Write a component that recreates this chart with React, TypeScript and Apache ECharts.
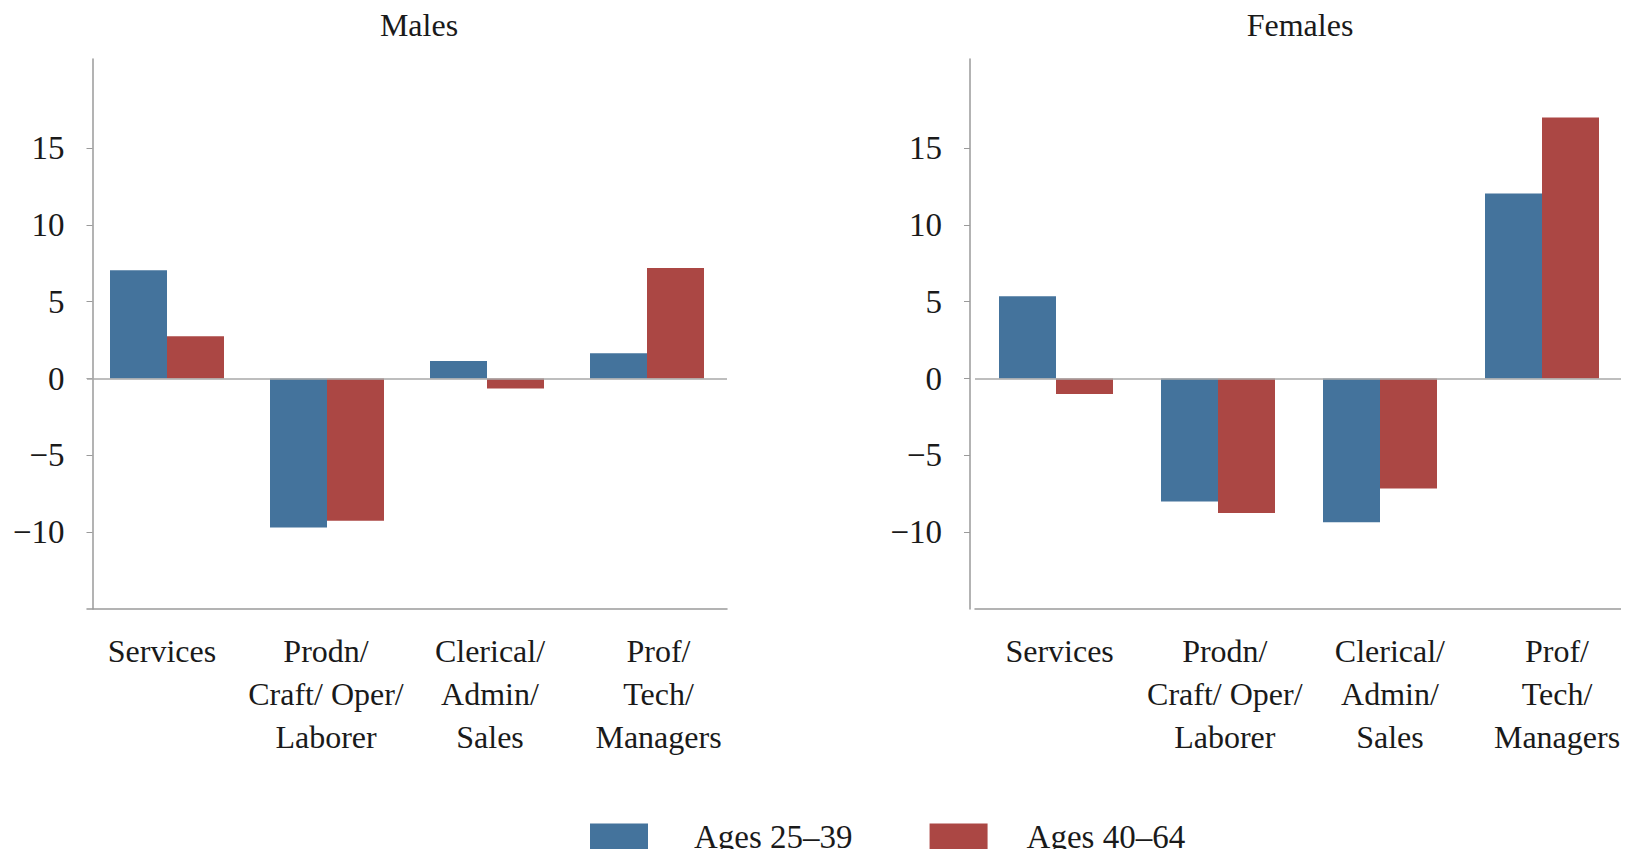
import React, { useEffect, useRef } from "react";
import * as echarts from "echarts";

const categories = [
  "Services",
  "Prodn/\nCraft/ Oper/\nLaborer",
  "Clerical/\nAdmin/\nSales",
  "Prof/\nTech/\nManagers",
];
const seriesNames = ["Ages 25–39", "Ages 40–64"];
const malesYoung = [7.05, -9.7, 1.15, 1.65];
const malesOld = [2.75, -9.25, -0.65, 7.2];
const femalesYoung = [5.35, -8.0, -9.35, 12.05];
const femalesOld = [-1.0, -8.75, -7.15, 17.0];
const panelTitles = ["Males", "Females"];
const tickValues = [-10, -5, 0, 5, 10, 15];

const BLUE = "#44739c";
const RED = "#ab4744";
const FONT = "Liberation Serif";
const TEXT = "#1a1a1a";
const AXIS = "#9a9a9a";

// horizontal nudges of category labels (px) per panel
const labelShift = [
  [-5, -1, 3, 11.5],
  [3.6, 6.8, 9.9, 15],
];

export default function App() {
  const ref = useRef<HTMLDivElement>(null);
  useEffect(() => {
    if (!ref.current) return;
    const chart = echarts.init(ref.current, null, { renderer: "svg" });
    const grids = [
      { left: 87, top: 59, width: 640, height: 550 },
      { left: 975, top: 59, width: 648, height: 550 },
    ];
    const yOffsets = [-5.5, 5];
    const xAxis = grids.map((_, i) => ({
      type: "category",
      gridIndex: i,
      data: categories.map((c, k) => {
        const s = labelShift[i][k];
        return {
          value: c,
          textStyle: { padding: s >= 0 ? [0, 0, 0, 2 * s] : [0, -2 * s, 0, 0] },
        };
      }),
      position: "bottom",
      axisLine: { show: true, onZero: false, lineStyle: { color: AXIS, width: 1.5 } },
      axisTick: { show: false },
      axisLabel: {
        interval: 0,
        margin: 20,
        fontFamily: FONT,
        fontSize: 32,
        lineHeight: 43,
        color: TEXT,
        align: "center",
      },
    }));
    const yAxis = grids.map((_, i) => ({
      type: "value",
      gridIndex: i,
      min: -15,
      max: 20.8,
      offset: yOffsets[i],
      splitLine: { show: false },
      axisLine: { show: true, lineStyle: { color: AXIS, width: 1.5 } },
      axisTick: {
        show: true,
        length: 6,
        customValues: tickValues,
        lineStyle: { color: AXIS },
      },
      axisLabel: {
        customValues: tickValues,
        margin: 28,
        fontFamily: FONT,
        fontSize: 33,
        color: TEXT,
        formatter: (v: number) => (v < 0 ? "\u2212" + Math.abs(v) : String(v)),
      },
    }));
    const mk = (name: string, data: number[], idx: number, color: string, zero: boolean) => ({
      name,
      type: "bar",
      xAxisIndex: idx,
      yAxisIndex: idx,
      data,
      barWidth: 57,
      barGap: "0%",
      itemStyle: { color },
      markLine: zero
        ? {
            silent: true,
            symbol: "none",
            label: { show: false },
            lineStyle: { color: "#a8a8a8", type: "solid", width: 1.5 },
            data: [{ yAxis: 0 }],
          }
        : undefined,
    });
    chart.setOption({
      animation: false,
      title: [
        {
          text: panelTitles[0],
          left: 419,
          top: 9,
          padding: 0,
          textAlign: "center",
          textStyle: { fontFamily: FONT, fontSize: 32, fontWeight: "normal", color: TEXT },
        },
        {
          text: panelTitles[1],
          left: 1300,
          top: 9,
          padding: 0,
          textAlign: "center",
          textStyle: { fontFamily: FONT, fontSize: 32, fontWeight: "normal", color: TEXT },
        },
      ],
      legend: {
        data: seriesNames,
        left: 590,
        top: 820,
        padding: 0,
        itemWidth: 58,
        itemHeight: 26,
        itemGap: 77,
        icon: "rect",
        formatter: (name: string) =>
          name === seriesNames[0] ? `{g|}{t|${name}}` : `{h|}{t|${name}}`,
        textStyle: {
          fontFamily: FONT,
          fontSize: 33,
          color: TEXT,
          rich: {
            g: { width: 41 },
            h: { width: 34 },
            t: { fontFamily: FONT, fontSize: 33, lineHeight: 34, color: TEXT },
          },
        },
      },
      grid: grids,
      xAxis,
      yAxis,
      series: [
        mk(seriesNames[0], malesYoung, 0, BLUE, true),
        mk(seriesNames[1], malesOld, 0, RED, false),
        mk(seriesNames[0], femalesYoung, 1, BLUE, true),
        mk(seriesNames[1], femalesOld, 1, RED, false),
      ],
    });
    return () => chart.dispose();
  }, []);
  return <div ref={ref} style={{ width: 1629, height: 857, margin: -8 }} />;
}
